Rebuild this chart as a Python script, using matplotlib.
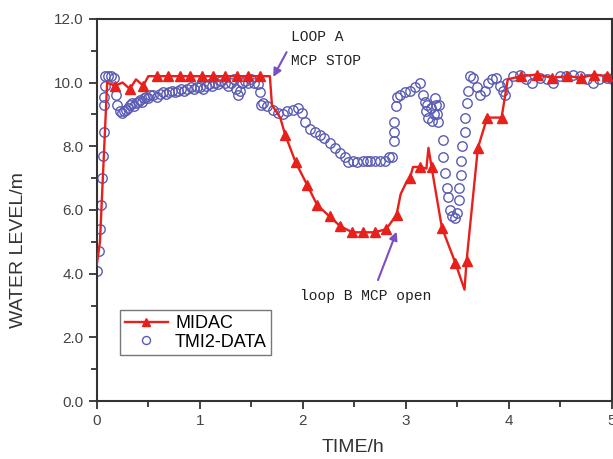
import numpy as np
import matplotlib.pyplot as plt

plt.rcParams['font.family'] = ['Liberation Sans', 'DejaVu Sans']

# MIDAC calculation (red line, triangles)
midac_t = [0.00, 0.03, 0.10, 0.175, 0.25, 0.32, 0.38, 0.45, 0.50, 0.58, 0.69, 0.81, 0.90,
           1.02, 1.13, 1.24, 1.36, 1.47, 1.58, 1.68, 1.70, 1.78, 1.83, 1.93, 2.04, 2.14,
           2.26, 2.36, 2.48, 2.58, 2.70, 2.81, 2.91, 2.95, 3.01, 3.04, 3.07, 3.14, 3.20,
           3.22, 3.25, 3.35, 3.48, 3.57, 3.59, 3.70, 3.79, 3.93, 3.96, 3.99, 4.12, 4.27,
           4.42, 4.57, 4.70, 4.83, 4.95, 5.00]
midac_level = [4.3, 5.0, 10.0, 9.9, 10.0, 9.8, 10.1, 9.9, 10.2, 10.2, 10.2, 10.2, 10.2,
               10.2, 10.2, 10.2, 10.2, 10.2, 10.2, 10.2, 9.3, 8.9, 8.35, 7.5, 6.8, 6.15,
               5.8, 5.5, 5.3, 5.3, 5.3, 5.4, 5.85, 6.5, 6.9, 7.0, 7.35, 7.35, 7.3,
               7.95, 7.35, 5.45, 4.35, 3.5, 4.4, 7.95, 8.9, 8.9, 9.5, 10.1, 10.2, 10.25,
               10.15, 10.2, 10.15, 10.25, 10.2, 10.2]
midac_marks = [3, 5, 7, 9, 10, 11, 12, 13, 14, 15, 16, 17, 18, 22, 23, 24, 25, 26, 27, 28,
               29, 30, 31, 32, 35, 37, 40, 41, 42, 44, 45, 46, 47, 50, 51, 52, 53, 54, 55, 56]

# TMI-2 plant data (open circles)
tmi_t = [0.00, 0.02, 0.03, 0.04, 0.05, 0.06, 0.07, 0.07, 0.07, 0.08, 0.08, 0.11, 0.14,
         0.17, 0.19, 0.20, 0.22, 0.24, 0.26, 0.28, 0.30, 0.32, 0.34, 0.36, 0.38, 0.40,
         0.42, 0.44, 0.46, 0.48, 0.50, 0.52, 0.55, 0.58, 0.61, 0.64, 0.67, 0.70, 0.73,
         0.76, 0.79, 0.82, 0.85, 0.88, 0.91, 0.94, 0.97, 1.00, 1.03, 1.06, 1.09, 1.12,
         1.15, 1.18, 1.21, 1.24, 1.27, 1.30, 1.33, 1.35, 1.37, 1.39, 1.41, 1.44, 1.47,
         1.50, 1.53, 1.56, 1.58, 1.59, 1.61, 1.65, 1.71, 1.76, 1.81, 1.85, 1.90, 1.95,
         1.99, 2.02, 2.07, 2.12, 2.17, 2.21, 2.26, 2.31, 2.36, 2.41, 2.44, 2.49, 2.53,
         2.58, 2.62, 2.65, 2.70, 2.75, 2.80, 2.84, 2.87, 2.89, 2.89, 2.89, 2.90, 2.91,
         2.94, 2.99, 3.04, 3.09, 3.14, 3.17, 3.19, 3.20, 3.21, 3.22, 3.24, 3.25, 3.27,
         3.28, 3.29, 3.30, 3.31, 3.32, 3.36, 3.36, 3.38, 3.40, 3.41, 3.43, 3.45, 3.48,
         3.50, 3.52, 3.52, 3.54, 3.54, 3.55, 3.57, 3.57, 3.59, 3.60, 3.62, 3.65, 3.69,
         3.72, 3.77, 3.80, 3.84, 3.88, 3.91, 3.94, 3.96, 3.98, 4.04, 4.11, 4.17, 4.23,
         4.30, 4.37, 4.43, 4.50, 4.56, 4.62, 4.69, 4.76, 4.82, 4.88, 4.95, 5.00]
tmi_level = [4.1, 4.7, 5.4, 6.15, 7.0, 7.7, 8.45, 9.3, 9.55, 9.9, 10.2, 10.2, 10.2,
             10.15, 9.6, 9.3, 9.1, 9.05, 9.1, 9.15, 9.2, 9.3, 9.35, 9.25, 9.35, 9.4,
             9.45, 9.4, 9.5, 9.55, 9.5, 9.6, 9.6, 9.55, 9.65, 9.7, 9.65, 9.7, 9.75,
             9.7, 9.75, 9.8, 9.75, 9.8, 9.85, 9.8, 9.85, 9.85, 9.8, 9.9, 9.95, 9.9,
             10.0, 9.95, 10.05, 10.0, 9.9, 10.0, 10.1, 9.8, 9.6, 9.75, 10.0, 10.05, 10.0,
             10.1, 10.0, 9.95, 9.7, 9.3, 9.35, 9.25, 9.15, 9.05, 9.0, 9.1, 9.15, 9.2,
             9.05, 8.75, 8.55, 8.45, 8.35, 8.25, 8.1, 7.95, 7.8, 7.65, 7.5, 7.55, 7.5,
             7.55, 7.55, 7.55, 7.55, 7.55, 7.55, 7.65, 7.65, 8.15, 8.45, 8.75, 9.25, 9.55,
             9.6, 9.7, 9.75, 9.85, 10.0, 9.6, 9.4, 9.1, 9.3, 8.9, 9.2, 8.8, 9.0,
             9.5, 9.3, 9.0, 8.75, 9.3, 8.2, 7.65, 7.15, 6.7, 6.4, 6.0, 5.8, 5.75,
             5.9, 6.3, 6.7, 7.1, 7.55, 8.0, 8.45, 8.9, 9.35, 9.75, 10.2, 10.15, 9.85,
             9.6, 9.75, 10.0, 10.1, 10.15, 9.9, 9.75, 9.6, 10.0, 10.2, 10.25, 10.1, 10.0,
             10.15, 10.1, 10.0, 10.2, 10.2, 10.25, 10.2, 10.1, 10.0, 10.1, 10.15, 10.1]

fig = plt.figure(figsize=(6.13, 4.59), dpi=100)
ax = fig.add_axes([0.158, 0.126, 0.84, 0.833])

ax.plot(tmi_t, tmi_level, linestyle='none', marker='o', markersize=6.8,
        markerfacecolor='none', markeredgecolor='#5a5cb4', markeredgewidth=1.0,
        label='TMI2-DATA', zorder=2)
ax.plot(midac_t, midac_level, color='#e8201c', linewidth=1.7, marker='^',
        markersize=7, markevery=midac_marks, label='MIDAC', zorder=3)

ax.set_xlim(0, 5)
ax.set_ylim(0, 12)
ax.set_xticks([0, 1, 2, 3, 4, 5])
ax.set_xticks([0.5, 1.5, 2.5, 3.5, 4.5], minor=True)
ax.set_yticks([0, 2, 4, 6, 8, 10, 12])
ax.set_yticks([1, 3, 5, 7, 9, 11], minor=True)
ax.set_yticklabels(['0.0', '2.0', '4.0', '6.0', '8.0', '10.0', '12.0'])
ax.tick_params(which='major', direction='out', length=6, width=1.3, labelsize=11,
               colors='#333333', labelcolor='#444444', top=False, right=False)
ax.tick_params(which='minor', direction='out', length=4, width=1.3, top=False, right=False,
               colors='#333333')
for s in ax.spines.values():
    s.set_linewidth(1.5)
    s.set_color('#333333')

ax.set_xlabel('TIME/h', fontsize=14, color='#333333')
ax.set_ylabel('WATER LEVEL/m', fontsize=14, color='#333333')
ax.xaxis.set_label_coords(0.497, -0.098)
ax.yaxis.set_label_coords(-0.136, 0.395)

h, l = ax.get_legend_handles_labels()
leg = ax.legend([h[1], h[0]], [l[1], l[0]], loc='lower left', bbox_to_anchor=(0.045, 0.12),
                fontsize=13, frameon=True, fancybox=False, handlelength=2.4,
                handletextpad=0.4, borderpad=0.25, labelspacing=0.1, borderaxespad=0,
                markerscale=0.85)
leg.get_frame().set_edgecolor('#555555')
leg.get_frame().set_linewidth(1.0)

txt = dict(family=['Liberation Mono', 'DejaVu Sans Mono'], fontsize=10.5, color='#222222')
ax.annotate('LOOP A\nMCP STOP', xy=(1.70, 10.2), xytext=(1.89, 11.05),
            va='center', ha='left', linespacing=1.9, **txt)
ax.annotate('', xy=(1.70, 10.1), xytext=(1.855, 11.03),
            arrowprops=dict(arrowstyle='-|>', color='#7a4fc4', lw=1.5, mutation_scale=12))
ax.annotate('loop B MCP open', xy=(2.94, 5.4), xytext=(1.97, 3.3),
            va='center', ha='left', **txt)
ax.annotate('', xy=(2.92, 5.4), xytext=(2.72, 3.72),
            arrowprops=dict(arrowstyle='-|>', color='#7a4fc4', lw=1.5, mutation_scale=12))

fig.savefig('out.png', dpi=100)
